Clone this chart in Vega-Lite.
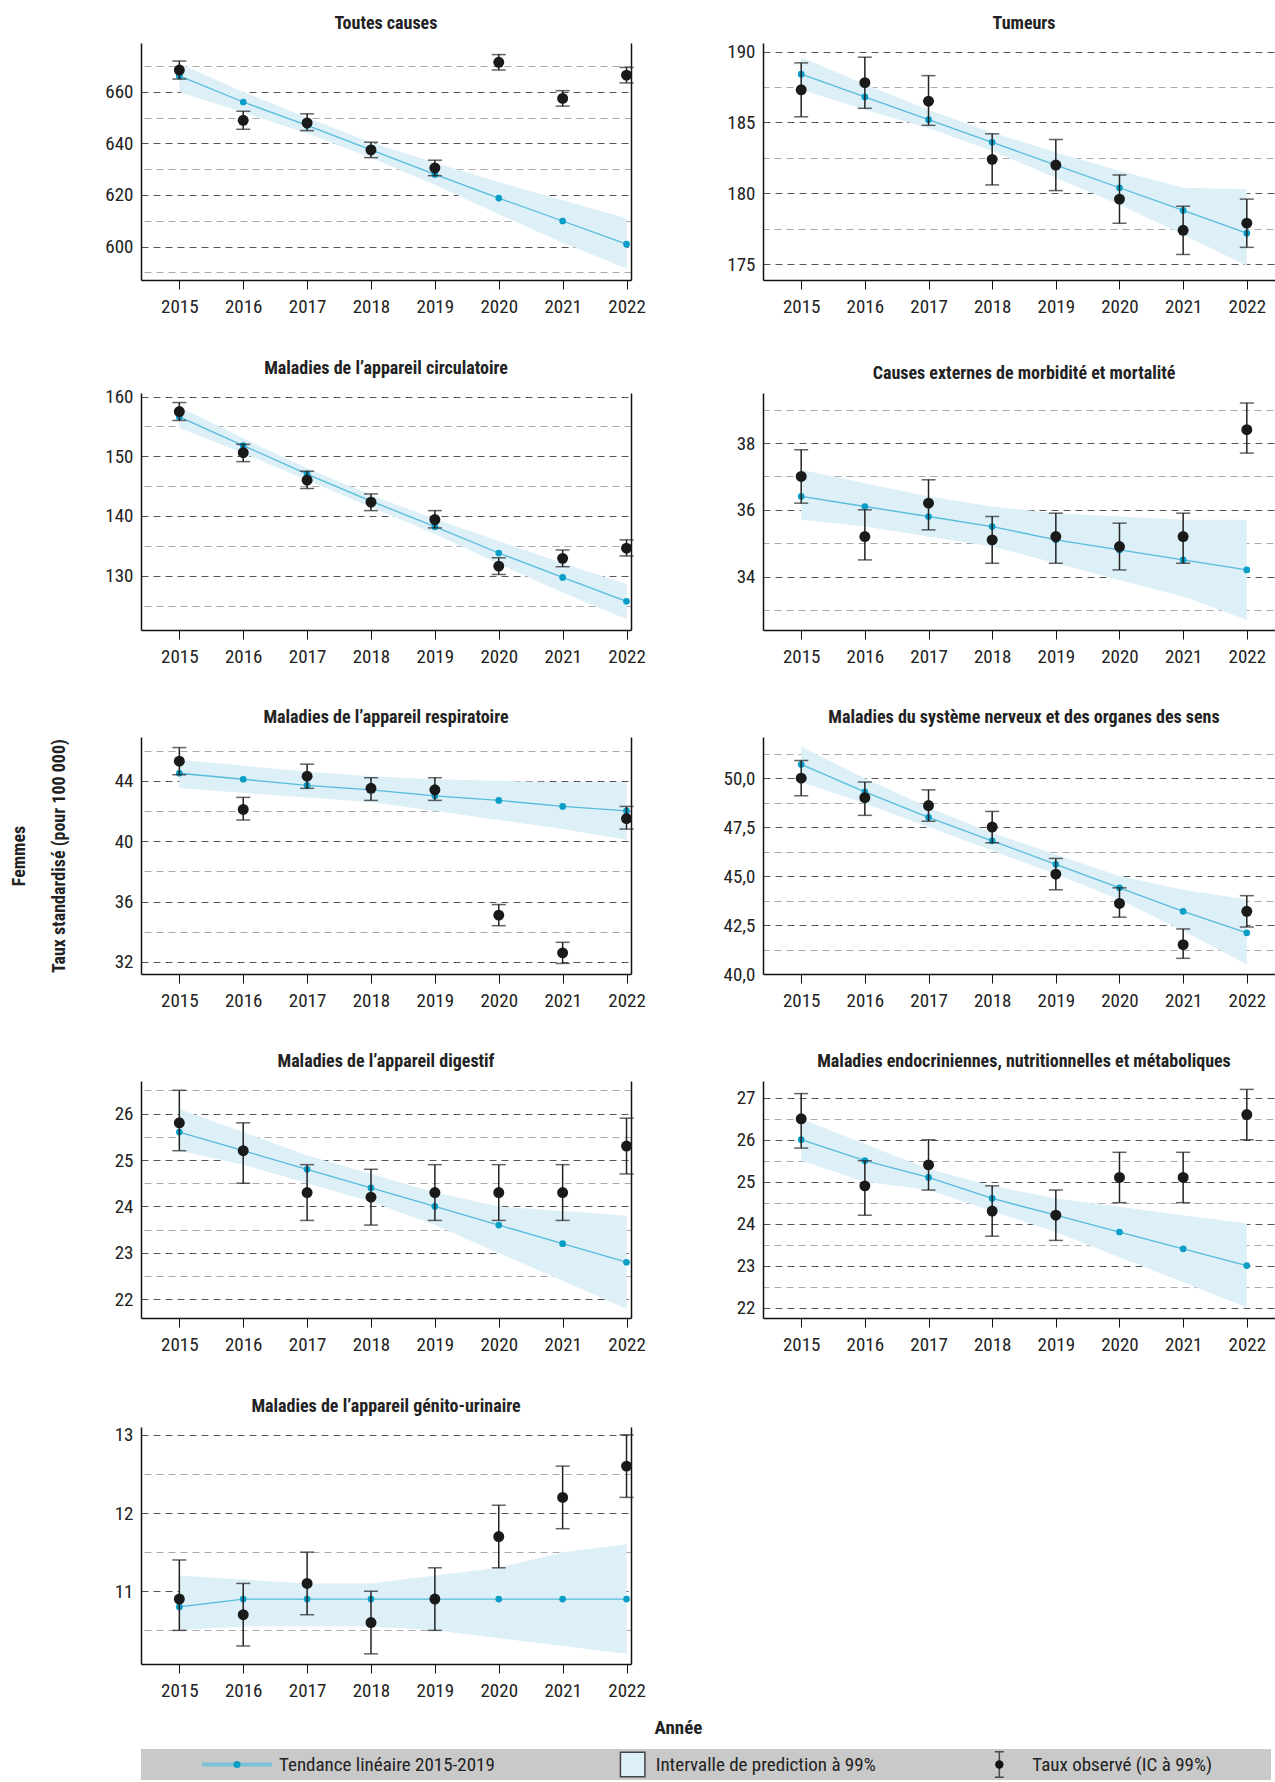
{
"$schema":"https://vega.github.io/schema/vega-lite/v6.json",
"padding":{"left":10,"top":14,"right":2,"bottom":0},
"background":"white",
"datasets":{
"d":[
{"p":1,"yr":2015,"t":666.2,"lo":660,"hi":671,"o":668.5,"ol":665,"oh":672},
{"p":1,"yr":2016,"t":656.1,"lo":652,"hi":660,"o":649,"ol":645.5,"oh":652.5},
{"p":1,"yr":2017,"t":647,"lo":644,"hi":650,"o":648,"ol":645,"oh":651.5},
{"p":1,"yr":2018,"t":637.5,"lo":634.5,"hi":640.5,"o":637.5,"ol":634.5,"oh":640.5},
{"p":1,"yr":2019,"t":628,"lo":624,"hi":632.5,"o":630.5,"ol":627.5,"oh":633.5},
{"p":1,"yr":2020,"t":618.8,"lo":612.5,"hi":625,"o":671.5,"ol":668.5,"oh":674.5},
{"p":1,"yr":2021,"t":609.9,"lo":601.5,"hi":618,"o":657.5,"ol":654.5,"oh":660.5},
{"p":1,"yr":2022,"t":600.9,"lo":591.5,"hi":611,"o":666.5,"ol":663.5,"oh":669.5},
{"p":2,"yr":2015,"t":188.4,"lo":187.3,"hi":189.6,"o":187.3,"ol":185.4,"oh":189.2},
{"p":2,"yr":2016,"t":186.8,"lo":185.9,"hi":187.7,"o":187.8,"ol":186.0,"oh":189.6},
{"p":2,"yr":2017,"t":185.2,"lo":184.6,"hi":185.9,"o":186.5,"ol":184.8,"oh":188.3},
{"p":2,"yr":2018,"t":183.6,"lo":183.0,"hi":184.3,"o":182.4,"ol":180.6,"oh":184.2},
{"p":2,"yr":2019,"t":182.0,"lo":181.1,"hi":182.9,"o":182.0,"ol":180.2,"oh":183.8},
{"p":2,"yr":2020,"t":180.4,"lo":179.2,"hi":181.6,"o":179.6,"ol":177.9,"oh":181.3},
{"p":2,"yr":2021,"t":178.8,"lo":177.1,"hi":180.4,"o":177.4,"ol":175.7,"oh":179.1},
{"p":2,"yr":2022,"t":177.2,"lo":174.9,"hi":180.3,"o":177.9,"ol":176.2,"oh":179.6},
{"p":3,"yr":2015,"t":156.6,"lo":154.8,"hi":158.3,"o":157.5,"ol":156,"oh":159},
{"p":3,"yr":2016,"t":151.8,"lo":150.5,"hi":153,"o":150.6,"ol":149.1,"oh":152},
{"p":3,"yr":2017,"t":147,"lo":146,"hi":148,"o":146,"ol":144.6,"oh":147.5},
{"p":3,"yr":2018,"t":142.5,"lo":141.5,"hi":143.5,"o":142.3,"ol":140.9,"oh":143.7},
{"p":3,"yr":2019,"t":138.2,"lo":137,"hi":139.5,"o":139.4,"ol":138,"oh":140.9},
{"p":3,"yr":2020,"t":133.8,"lo":132,"hi":135.8,"o":131.6,"ol":130.2,"oh":133},
{"p":3,"yr":2021,"t":129.7,"lo":127.2,"hi":132.1,"o":132.9,"ol":131.5,"oh":134.3},
{"p":3,"yr":2022,"t":125.7,"lo":122.7,"hi":128.6,"o":134.6,"ol":133.3,"oh":136},
{"p":4,"yr":2015,"t":36.4,"lo":35.7,"hi":37.2,"o":37.0,"ol":36.2,"oh":37.8},
{"p":4,"yr":2016,"t":36.1,"lo":35.5,"hi":36.8,"o":35.2,"ol":34.5,"oh":36.0},
{"p":4,"yr":2017,"t":35.8,"lo":35.2,"hi":36.4,"o":36.2,"ol":35.4,"oh":36.9},
{"p":4,"yr":2018,"t":35.5,"lo":34.9,"hi":36.1,"o":35.1,"ol":34.4,"oh":35.8},
{"p":4,"yr":2019,"t":35.1,"lo":34.4,"hi":35.9,"o":35.2,"ol":34.4,"oh":35.9},
{"p":4,"yr":2020,"t":34.8,"lo":33.9,"hi":35.8,"o":34.9,"ol":34.2,"oh":35.6},
{"p":4,"yr":2021,"t":34.5,"lo":33.4,"hi":35.7,"o":35.2,"ol":34.4,"oh":35.9},
{"p":4,"yr":2022,"t":34.2,"lo":32.7,"hi":35.7,"o":38.4,"ol":37.7,"oh":39.2},
{"p":5,"yr":2015,"t":44.5,"lo":43.5,"hi":45.4,"o":45.3,"ol":44.4,"oh":46.2},
{"p":5,"yr":2016,"t":44.1,"lo":43.2,"hi":45.0,"o":42.1,"ol":41.4,"oh":42.9},
{"p":5,"yr":2017,"t":43.7,"lo":42.9,"hi":44.6,"o":44.3,"ol":43.5,"oh":45.1},
{"p":5,"yr":2018,"t":43.4,"lo":42.6,"hi":44.3,"o":43.5,"ol":42.7,"oh":44.2},
{"p":5,"yr":2019,"t":43.0,"lo":42.0,"hi":44.1,"o":43.4,"ol":42.7,"oh":44.2},
{"p":5,"yr":2020,"t":42.7,"lo":41.4,"hi":44.0,"o":35.1,"ol":34.4,"oh":35.8},
{"p":5,"yr":2021,"t":42.3,"lo":40.8,"hi":43.9,"o":32.6,"ol":31.9,"oh":33.3},
{"p":5,"yr":2022,"t":42.0,"lo":40.1,"hi":43.9,"o":41.5,"ol":40.8,"oh":42.3},
{"p":6,"yr":2015,"t":50.7,"lo":49.8,"hi":51.6,"o":50.0,"ol":49.1,"oh":50.9},
{"p":6,"yr":2016,"t":49.3,"lo":48.7,"hi":50.0,"o":49.0,"ol":48.1,"oh":49.8},
{"p":6,"yr":2017,"t":48.0,"lo":47.5,"hi":48.5,"o":48.6,"ol":47.8,"oh":49.4},
{"p":6,"yr":2018,"t":46.8,"lo":46.3,"hi":47.2,"o":47.5,"ol":46.7,"oh":48.3},
{"p":6,"yr":2019,"t":45.6,"lo":45.1,"hi":46.1,"o":45.1,"ol":44.3,"oh":45.9},
{"p":6,"yr":2020,"t":44.4,"lo":43.8,"hi":45.0,"o":43.6,"ol":42.9,"oh":44.4},
{"p":6,"yr":2021,"t":43.2,"lo":42.2,"hi":44.3,"o":41.5,"ol":40.8,"oh":42.3},
{"p":6,"yr":2022,"t":42.1,"lo":40.5,"hi":43.8,"o":43.2,"ol":42.4,"oh":44.0},
{"p":7,"yr":2015,"t":25.6,"lo":25.2,"hi":26.1,"o":25.8,"ol":25.2,"oh":26.5},
{"p":7,"yr":2016,"t":25.2,"lo":24.9,"hi":25.6,"o":25.2,"ol":24.5,"oh":25.8},
{"p":7,"yr":2017,"t":24.8,"lo":24.5,"hi":25.1,"o":24.3,"ol":23.7,"oh":24.9},
{"p":7,"yr":2018,"t":24.4,"lo":24.1,"hi":24.7,"o":24.2,"ol":23.6,"oh":24.8},
{"p":7,"yr":2019,"t":24.0,"lo":23.6,"hi":24.3,"o":24.3,"ol":23.7,"oh":24.9},
{"p":7,"yr":2020,"t":23.6,"lo":23.0,"hi":24.0,"o":24.3,"ol":23.7,"oh":24.9},
{"p":7,"yr":2021,"t":23.2,"lo":22.4,"hi":23.9,"o":24.3,"ol":23.7,"oh":24.9},
{"p":7,"yr":2022,"t":22.8,"lo":21.8,"hi":23.8,"o":25.3,"ol":24.7,"oh":25.9},
{"p":8,"yr":2015,"t":26.0,"lo":25.5,"hi":26.5,"o":26.5,"ol":25.8,"oh":27.1},
{"p":8,"yr":2016,"t":25.5,"lo":25.0,"hi":25.9,"o":24.9,"ol":24.2,"oh":25.5},
{"p":8,"yr":2017,"t":25.1,"lo":24.8,"hi":25.3,"o":25.4,"ol":24.8,"oh":26.0},
{"p":8,"yr":2018,"t":24.6,"lo":24.3,"hi":24.9,"o":24.3,"ol":23.7,"oh":24.9},
{"p":8,"yr":2019,"t":24.2,"lo":23.8,"hi":24.6,"o":24.2,"ol":23.6,"oh":24.8},
{"p":8,"yr":2020,"t":23.8,"lo":23.2,"hi":24.4,"o":25.1,"ol":24.5,"oh":25.7},
{"p":8,"yr":2021,"t":23.4,"lo":22.6,"hi":24.2,"o":25.1,"ol":24.5,"oh":25.7},
{"p":8,"yr":2022,"t":23.0,"lo":22.0,"hi":24.0,"o":26.6,"ol":26.0,"oh":27.2},
{"p":9,"yr":2015,"t":10.8,"lo":10.5,"hi":11.2,"o":10.9,"ol":10.5,"oh":11.4},
{"p":9,"yr":2016,"t":10.9,"lo":10.55,"hi":11.15,"o":10.7,"ol":10.3,"oh":11.1},
{"p":9,"yr":2017,"t":10.9,"lo":10.55,"hi":11.1,"o":11.1,"ol":10.7,"oh":11.5},
{"p":9,"yr":2018,"t":10.9,"lo":10.55,"hi":11.1,"o":10.6,"ol":10.2,"oh":11.0},
{"p":9,"yr":2019,"t":10.9,"lo":10.5,"hi":11.2,"o":10.9,"ol":10.5,"oh":11.3},
{"p":9,"yr":2020,"t":10.9,"lo":10.4,"hi":11.3,"o":11.7,"ol":11.3,"oh":12.1},
{"p":9,"yr":2021,"t":10.9,"lo":10.3,"hi":11.5,"o":12.2,"ol":11.8,"oh":12.6},
{"p":9,"yr":2022,"t":10.9,"lo":10.2,"hi":11.6,"o":12.6,"ol":12.2,"oh":13.0}
],
"leg":[{"k":"Tendance linéaire 2015-2019"},{"k":"Intervalle de prediction à 99%"},{"k":"Taux observé (IC à 99%)"}]
},
"config":{
"font":"Liberation Sans Narrow, Roboto Condensed, Liberation Sans, sans-serif",
"view":{"stroke":null},
"title":{"fontSize":18,"fontWeight":"bold","color":"#222","anchor":"middle","offset":10},
"axis":{"labelFontSize":19,"labelColor":"#222","domainColor":"#111","domainWidth":1.5,"tickColor":"#111","gridColor":"#555","gridDash":[7,5],"gridWidth":1.2,"titleColor":"#222"},
"axisX":{"tickSize":9,"labelPadding":8,"grid":false},
"axisY":{"ticks":false,"labelPadding":8}
},
"spacing":18,
"vconcat":[
{"columns":2,"spacing":{"row":43,"column":77},"concat":[
{"title":"Toutes causes","width":490,"height":237,"data":{"name":"d"},"transform":[{"filter":"datum.p==1"}],
"encoding":{"x":{"field":"yr","type":"quantitative","scale":{"domain":[2014.4,2022.07]},"axis":{"values":[2015,2016,2017,2018,2019,2020,2021,2022],"format":"d","title":null}}},
"resolve":{"axis":{"y":"independent"}},
"layer":[
{"mark":{"type":"area","color":"#ddeff7"},"encoding":{"y":{"field":"lo","type":"quantitative","scale":{"domain":[587,679],"nice":false,"zero":false},"axis":{"values":[600,620,640,660],"grid":true,"title":null}},"y2":{"field":"hi"}}},
{"mark":{"type":"line","color":"#55bcdb","strokeWidth":1.3},"encoding":{"y":{"field":"t","type":"quantitative","axis":{"orient":"right","values":[590,610,630,650,670],"grid":true,"gridColor":"#aaa","labels":false,"title":null}}}},
{"mark":{"type":"point","filled":true,"opacity":1,"color":"#0a9ec7","size":45},"encoding":{"y":{"field":"t","type":"quantitative","axis":null}}},
{"mark":{"type":"rule","color":"#222","strokeWidth":1.5},"encoding":{"y":{"field":"ol","type":"quantitative","axis":null},"y2":{"field":"oh"}}},
{"mark":{"type":"tick","orient":"horizontal","color":"#222","size":14,"thickness":1.5},"encoding":{"y":{"field":"ol","type":"quantitative","axis":null}}},
{"mark":{"type":"tick","orient":"horizontal","color":"#222","size":14,"thickness":1.5},"encoding":{"y":{"field":"oh","type":"quantitative","axis":null}}},
{"mark":{"type":"point","filled":true,"opacity":1,"color":"#1a1a1a","size":120},"encoding":{"y":{"field":"o","type":"quantitative","axis":null}}}
]},
{"title":"Tumeurs","width":522,"height":237,"data":{"name":"d"},"transform":[{"filter":"datum.p==2"}],
"encoding":{"x":{"field":"yr","type":"quantitative","scale":{"domain":[2014.4,2022.6]},"axis":{"values":[2015,2016,2017,2018,2019,2020,2021,2022],"format":"d","title":null}}},
"resolve":{"axis":{"y":"independent"}},
"layer":[
{"mark":{"type":"area","color":"#ddeff7"},"encoding":{"y":{"field":"lo","type":"quantitative","scale":{"domain":[173.9,190.6],"nice":false,"zero":false},"axis":{"values":[175,180,185,190],"grid":true,"title":null}},"y2":{"field":"hi"}}},
{"mark":{"type":"line","color":"#55bcdb","strokeWidth":1.3},"encoding":{"y":{"field":"t","type":"quantitative","axis":{"orient":"right","values":[177.5,182.5,187.5],"grid":true,"gridColor":"#aaa","labels":false,"title":null}}}},
{"mark":{"type":"point","filled":true,"opacity":1,"color":"#0a9ec7","size":45},"encoding":{"y":{"field":"t","type":"quantitative","axis":null}}},
{"mark":{"type":"rule","color":"#222","strokeWidth":1.5},"encoding":{"y":{"field":"ol","type":"quantitative","axis":null},"y2":{"field":"oh"}}},
{"mark":{"type":"tick","orient":"horizontal","color":"#222","size":14,"thickness":1.5},"encoding":{"y":{"field":"ol","type":"quantitative","axis":null}}},
{"mark":{"type":"tick","orient":"horizontal","color":"#222","size":14,"thickness":1.5},"encoding":{"y":{"field":"oh","type":"quantitative","axis":null}}},
{"mark":{"type":"point","filled":true,"opacity":1,"color":"#1a1a1a","size":120},"encoding":{"y":{"field":"o","type":"quantitative","axis":null}}}
]},
{"title":"Maladies de l’appareil circulatoire","width":490,"height":237,"data":{"name":"d"},"transform":[{"filter":"datum.p==3"}],
"encoding":{"x":{"field":"yr","type":"quantitative","scale":{"domain":[2014.4,2022.07]},"axis":{"values":[2015,2016,2017,2018,2019,2020,2021,2022],"format":"d","title":null}}},
"resolve":{"axis":{"y":"independent"}},
"layer":[
{"mark":{"type":"area","color":"#ddeff7"},"encoding":{"y":{"field":"lo","type":"quantitative","scale":{"domain":[120.9,160.6],"nice":false,"zero":false},"axis":{"values":[130,140,150,160],"grid":true,"title":null}},"y2":{"field":"hi"}}},
{"mark":{"type":"line","color":"#55bcdb","strokeWidth":1.3},"encoding":{"y":{"field":"t","type":"quantitative","axis":{"orient":"right","values":[125,135,145,155],"grid":true,"gridColor":"#aaa","labels":false,"title":null}}}},
{"mark":{"type":"point","filled":true,"opacity":1,"color":"#0a9ec7","size":45},"encoding":{"y":{"field":"t","type":"quantitative","axis":null}}},
{"mark":{"type":"rule","color":"#222","strokeWidth":1.5},"encoding":{"y":{"field":"ol","type":"quantitative","axis":null},"y2":{"field":"oh"}}},
{"mark":{"type":"tick","orient":"horizontal","color":"#222","size":14,"thickness":1.5},"encoding":{"y":{"field":"ol","type":"quantitative","axis":null}}},
{"mark":{"type":"tick","orient":"horizontal","color":"#222","size":14,"thickness":1.5},"encoding":{"y":{"field":"oh","type":"quantitative","axis":null}}},
{"mark":{"type":"point","filled":true,"opacity":1,"color":"#1a1a1a","size":120},"encoding":{"y":{"field":"o","type":"quantitative","axis":null}}}
]},
{"title":"Causes externes de morbidité et mortalité","width":522,"height":237,"data":{"name":"d"},"transform":[{"filter":"datum.p==4"}],
"encoding":{"x":{"field":"yr","type":"quantitative","scale":{"domain":[2014.4,2022.6]},"axis":{"values":[2015,2016,2017,2018,2019,2020,2021,2022],"format":"d","title":null}}},
"resolve":{"axis":{"y":"independent"}},
"layer":[
{"mark":{"type":"area","color":"#ddeff7"},"encoding":{"y":{"field":"lo","type":"quantitative","scale":{"domain":[32.4,39.5],"nice":false,"zero":false},"axis":{"values":[34,36,38],"grid":true,"title":null}},"y2":{"field":"hi"}}},
{"mark":{"type":"line","color":"#55bcdb","strokeWidth":1.3},"encoding":{"y":{"field":"t","type":"quantitative","axis":{"orient":"right","values":[33,35,37,39],"grid":true,"gridColor":"#aaa","labels":false,"title":null}}}},
{"mark":{"type":"point","filled":true,"opacity":1,"color":"#0a9ec7","size":45},"encoding":{"y":{"field":"t","type":"quantitative","axis":null}}},
{"mark":{"type":"rule","color":"#222","strokeWidth":1.5},"encoding":{"y":{"field":"ol","type":"quantitative","axis":null},"y2":{"field":"oh"}}},
{"mark":{"type":"tick","orient":"horizontal","color":"#222","size":14,"thickness":1.5},"encoding":{"y":{"field":"ol","type":"quantitative","axis":null}}},
{"mark":{"type":"tick","orient":"horizontal","color":"#222","size":14,"thickness":1.5},"encoding":{"y":{"field":"oh","type":"quantitative","axis":null}}},
{"mark":{"type":"point","filled":true,"opacity":1,"color":"#1a1a1a","size":120},"encoding":{"y":{"field":"o","type":"quantitative","axis":null}}}
]},
{"title":"Maladies de l’appareil respiratoire","width":490,"height":237,"data":{"name":"d"},"transform":[{"filter":"datum.p==5"}],
"encoding":{"x":{"field":"yr","type":"quantitative","scale":{"domain":[2014.4,2022.07]},"axis":{"values":[2015,2016,2017,2018,2019,2020,2021,2022],"format":"d","title":null}}},
"resolve":{"axis":{"y":"independent"}},
"layer":[
{"mark":{"type":"area","color":"#ddeff7"},"encoding":{"y":{"field":"lo","type":"quantitative","scale":{"domain":[31.2,46.9],"nice":false,"zero":false},"axis":{"values":[32,36,40,44],"grid":true,"title":["Femmes","Taux standardisé (pour 100 000)"],"titleFontSize":18,"titleFontWeight":"bold","titleLineHeight":40,"titlePadding":46}},"y2":{"field":"hi"}}},
{"mark":{"type":"line","color":"#55bcdb","strokeWidth":1.3},"encoding":{"y":{"field":"t","type":"quantitative","axis":{"orient":"right","values":[34,38,42,46],"grid":true,"gridColor":"#aaa","labels":false,"title":null}}}},
{"mark":{"type":"point","filled":true,"opacity":1,"color":"#0a9ec7","size":45},"encoding":{"y":{"field":"t","type":"quantitative","axis":null}}},
{"mark":{"type":"rule","color":"#222","strokeWidth":1.5},"encoding":{"y":{"field":"ol","type":"quantitative","axis":null},"y2":{"field":"oh"}}},
{"mark":{"type":"tick","orient":"horizontal","color":"#222","size":14,"thickness":1.5},"encoding":{"y":{"field":"ol","type":"quantitative","axis":null}}},
{"mark":{"type":"tick","orient":"horizontal","color":"#222","size":14,"thickness":1.5},"encoding":{"y":{"field":"oh","type":"quantitative","axis":null}}},
{"mark":{"type":"point","filled":true,"opacity":1,"color":"#1a1a1a","size":120},"encoding":{"y":{"field":"o","type":"quantitative","axis":null}}}
]},
{"title":"Maladies du système nerveux et des organes des sens","width":522,"height":237,"data":{"name":"d"},"transform":[{"filter":"datum.p==6"}],
"encoding":{"x":{"field":"yr","type":"quantitative","scale":{"domain":[2014.4,2022.6]},"axis":{"values":[2015,2016,2017,2018,2019,2020,2021,2022],"format":"d","title":null}}},
"resolve":{"axis":{"y":"independent"}},
"layer":[
{"mark":{"type":"area","color":"#ddeff7"},"encoding":{"y":{"field":"lo","type":"quantitative","scale":{"domain":[40,52.1],"nice":false,"zero":false},"axis":{"values":[40,42.5,45,47.5,50],"labelExpr":"replace(format(datum.value,'.1f'),'.',',')","grid":true,"title":null}},"y2":{"field":"hi"}}},
{"mark":{"type":"line","color":"#55bcdb","strokeWidth":1.3},"encoding":{"y":{"field":"t","type":"quantitative","axis":{"orient":"right","values":[41.25,43.75,46.25,48.75,51.25],"grid":true,"gridColor":"#aaa","labels":false,"title":null}}}},
{"mark":{"type":"point","filled":true,"opacity":1,"color":"#0a9ec7","size":45},"encoding":{"y":{"field":"t","type":"quantitative","axis":null}}},
{"mark":{"type":"rule","color":"#222","strokeWidth":1.5},"encoding":{"y":{"field":"ol","type":"quantitative","axis":null},"y2":{"field":"oh"}}},
{"mark":{"type":"tick","orient":"horizontal","color":"#222","size":14,"thickness":1.5},"encoding":{"y":{"field":"ol","type":"quantitative","axis":null}}},
{"mark":{"type":"tick","orient":"horizontal","color":"#222","size":14,"thickness":1.5},"encoding":{"y":{"field":"oh","type":"quantitative","axis":null}}},
{"mark":{"type":"point","filled":true,"opacity":1,"color":"#1a1a1a","size":120},"encoding":{"y":{"field":"o","type":"quantitative","axis":null}}}
]},
{"title":"Maladies de l’appareil digestif","width":490,"height":237,"data":{"name":"d"},"transform":[{"filter":"datum.p==7"}],
"encoding":{"x":{"field":"yr","type":"quantitative","scale":{"domain":[2014.4,2022.07]},"axis":{"values":[2015,2016,2017,2018,2019,2020,2021,2022],"format":"d","title":null}}},
"resolve":{"axis":{"y":"independent"}},
"layer":[
{"mark":{"type":"area","color":"#ddeff7"},"encoding":{"y":{"field":"lo","type":"quantitative","scale":{"domain":[21.6,26.7],"nice":false,"zero":false},"axis":{"values":[22,23,24,25,26],"grid":true,"title":null}},"y2":{"field":"hi"}}},
{"mark":{"type":"line","color":"#55bcdb","strokeWidth":1.3},"encoding":{"y":{"field":"t","type":"quantitative","axis":{"orient":"right","values":[22.5,23.5,24.5,25.5,26.5],"grid":true,"gridColor":"#aaa","labels":false,"title":null}}}},
{"mark":{"type":"point","filled":true,"opacity":1,"color":"#0a9ec7","size":45},"encoding":{"y":{"field":"t","type":"quantitative","axis":null}}},
{"mark":{"type":"rule","color":"#222","strokeWidth":1.5},"encoding":{"y":{"field":"ol","type":"quantitative","axis":null},"y2":{"field":"oh"}}},
{"mark":{"type":"tick","orient":"horizontal","color":"#222","size":14,"thickness":1.5},"encoding":{"y":{"field":"ol","type":"quantitative","axis":null}}},
{"mark":{"type":"tick","orient":"horizontal","color":"#222","size":14,"thickness":1.5},"encoding":{"y":{"field":"oh","type":"quantitative","axis":null}}},
{"mark":{"type":"point","filled":true,"opacity":1,"color":"#1a1a1a","size":120},"encoding":{"y":{"field":"o","type":"quantitative","axis":null}}}
]},
{"title":"Maladies endocriniennes, nutritionnelles et métaboliques","width":522,"height":237,"data":{"name":"d"},"transform":[{"filter":"datum.p==8"}],
"encoding":{"x":{"field":"yr","type":"quantitative","scale":{"domain":[2014.4,2022.6]},"axis":{"values":[2015,2016,2017,2018,2019,2020,2021,2022],"format":"d","title":null}}},
"resolve":{"axis":{"y":"independent"}},
"layer":[
{"mark":{"type":"area","color":"#ddeff7"},"encoding":{"y":{"field":"lo","type":"quantitative","scale":{"domain":[21.75,27.4],"nice":false,"zero":false},"axis":{"values":[22,23,24,25,26,27],"grid":true,"title":null}},"y2":{"field":"hi"}}},
{"mark":{"type":"line","color":"#55bcdb","strokeWidth":1.3},"encoding":{"y":{"field":"t","type":"quantitative","axis":{"orient":"right","values":[22.5,23.5,24.5,25.5,26.5],"grid":true,"gridColor":"#aaa","labels":false,"title":null}}}},
{"mark":{"type":"point","filled":true,"opacity":1,"color":"#0a9ec7","size":45},"encoding":{"y":{"field":"t","type":"quantitative","axis":null}}},
{"mark":{"type":"rule","color":"#222","strokeWidth":1.5},"encoding":{"y":{"field":"ol","type":"quantitative","axis":null},"y2":{"field":"oh"}}},
{"mark":{"type":"tick","orient":"horizontal","color":"#222","size":14,"thickness":1.5},"encoding":{"y":{"field":"ol","type":"quantitative","axis":null}}},
{"mark":{"type":"tick","orient":"horizontal","color":"#222","size":14,"thickness":1.5},"encoding":{"y":{"field":"oh","type":"quantitative","axis":null}}},
{"mark":{"type":"point","filled":true,"opacity":1,"color":"#1a1a1a","size":120},"encoding":{"y":{"field":"o","type":"quantitative","axis":null}}}
]},
{"title":"Maladies de l’appareil génito-urinaire","width":490,"height":237,"data":{"name":"d"},"transform":[{"filter":"datum.p==9"}],
"encoding":{"x":{"field":"yr","type":"quantitative","scale":{"domain":[2014.4,2022.07]},"axis":{"values":[2015,2016,2017,2018,2019,2020,2021,2022],"format":"d","title":null}}},
"resolve":{"axis":{"y":"independent"}},
"layer":[
{"mark":{"type":"area","color":"#ddeff7"},"encoding":{"y":{"field":"lo","type":"quantitative","scale":{"domain":[10.07,13.1],"nice":false,"zero":false},"axis":{"values":[11,12,13],"grid":true,"title":null}},"y2":{"field":"hi"}}},
{"mark":{"type":"line","color":"#55bcdb","strokeWidth":1.3},"encoding":{"y":{"field":"t","type":"quantitative","axis":{"orient":"right","values":[10.5,11.5,12.5],"grid":true,"gridColor":"#aaa","labels":false,"title":null}}}},
{"mark":{"type":"point","filled":true,"opacity":1,"color":"#0a9ec7","size":45},"encoding":{"y":{"field":"t","type":"quantitative","axis":null}}},
{"mark":{"type":"rule","color":"#222","strokeWidth":1.5},"encoding":{"y":{"field":"ol","type":"quantitative","axis":null},"y2":{"field":"oh"}}},
{"mark":{"type":"tick","orient":"horizontal","color":"#222","size":14,"thickness":1.5},"encoding":{"y":{"field":"ol","type":"quantitative","axis":null}}},
{"mark":{"type":"tick","orient":"horizontal","color":"#222","size":14,"thickness":1.5},"encoding":{"y":{"field":"oh","type":"quantitative","axis":null}}},
{"mark":{"type":"point","filled":true,"opacity":1,"color":"#1a1a1a","size":120},"encoding":{"y":{"field":"o","type":"quantitative","axis":null}}}
]}
]},
{"width":1130,"height":31,"view":{"fill":"#c9c9c9","stroke":null},"data":{"name":"leg"},
"encoding":{"x":{"field":"k","type":"nominal","sort":null,"bandPosition":0,"scale":{"type":"band","paddingInner":0,"paddingOuter":0},"axis":{"orient":"top","labels":false,"ticks":false,"domain":false,"title":"Année","titleFontSize":19,"titleFontWeight":"bold","titlePadding":12,"titleX":537}}},
"layer":[
{"transform":[{"filter":"datum.k=='Tendance linéaire 2015-2019'"}],"mark":{"type":"point","shape":"M-1,0L1,0","size":4900,"stroke":"#5cc0de","strokeWidth":4,"xOffset":96}},
{"transform":[{"filter":"datum.k=='Tendance linéaire 2015-2019'"}],"mark":{"type":"point","shape":"circle","filled":true,"opacity":1,"size":50,"color":"#0a9ec7","xOffset":96}},
{"transform":[{"filter":"datum.k=='Intervalle de prediction à 99%'"}],"mark":{"type":"point","shape":"square","filled":true,"opacity":1,"size":600,"fill":"#ddeff7","stroke":"#444","strokeWidth":1.5,"xOffset":115}},
{"transform":[{"filter":"datum.k=='Taux observé (IC à 99%)'"}],"mark":{"type":"point","shape":"M-0.35,-1L0.35,-1M0,-1L0,1M-0.35,1L0.35,1","size":650,"stroke":"#111","strokeWidth":1.5,"xOffset":105}},
{"transform":[{"filter":"datum.k=='Taux observé (IC à 99%)'"}],"mark":{"type":"point","shape":"circle","filled":true,"opacity":1,"size":70,"color":"#111","xOffset":105}},
{"mark":{"type":"text","align":"left","fontSize":19,"color":"#222","xOffset":138},"encoding":{"text":{"field":"k"}}}
]}
]
}
